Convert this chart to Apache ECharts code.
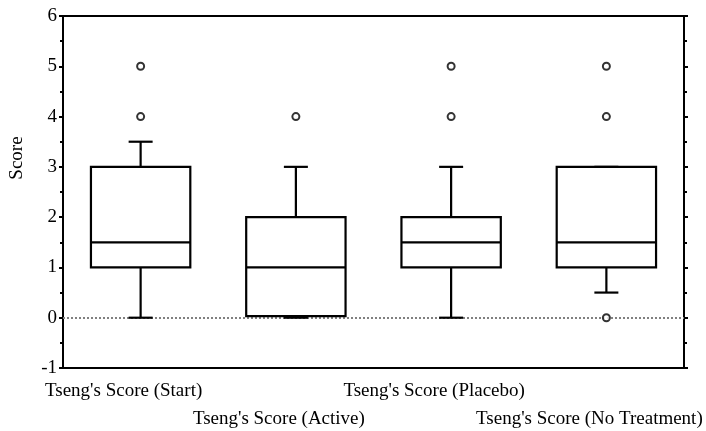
<!DOCTYPE html>
<html>
<head>
<meta charset="utf-8">
<script src="https://cdn.jsdelivr.net/npm/echarts@6/dist/echarts.min.js"></script>
<style>
  html, body { margin: 0; padding: 0; background: #fff; }
  #chart { width: 706px; height: 431px; }
</style>
</head>
<body>
<div id="chart"></div>
<script>
// Datos del diagrama de cajas
const categories = ["Tseng's Score (Start)", "Tseng's Score (Active)", "Tseng's Score (Placebo)", "Tseng's Score (No Treatment)"];
const lowWhisker = [0, 0, 0, 0.5];
const q1 = [1, 0.03, 1, 1];
const median = [1.5, 1, 1.5, 1.5];
const q3 = [3, 2, 2, 3];
const highWhisker = [3.5, 3, 3, 3];
const outlierCat = [0, 0, 1, 2, 2, 3, 3, 3];
const outlierVal = [4, 5, 4, 4, 5, 0, 4, 5];
const yTicks = [-1, 0, 1, 2, 3, 4, 5, 6];

const chart = echarts.init(document.getElementById('chart'));
const font = '"Liberation Serif", "DejaVu Serif", serif';

function renderBox(params, api) {
    const idx = api.value(0);
    const low = api.coord([idx, api.value(1)]);
    const pQ1 = api.coord([idx, api.value(2)]);
    const pMed = api.coord([idx, api.value(3)]);
    const pQ3 = api.coord([idx, api.value(4)]);
    const high = api.coord([idx, api.value(5)]);
    const bw = api.size([1, 0])[0] * 0.64;
    const cw = 24;
    const x = low[0];
    const st = { stroke: '#000', lineWidth: 2.2, fill: null };
    return {
        type: 'group',
        children: [
            { type: 'line', shape: { x1: x, y1: low[1], x2: x, y2: pQ1[1] }, style: st },
            { type: 'line', shape: { x1: x, y1: pQ3[1], x2: x, y2: high[1] }, style: st },
            { type: 'line', shape: { x1: x - cw / 2, y1: low[1], x2: x + cw / 2, y2: low[1] }, style: st },
            { type: 'line', shape: { x1: x - cw / 2, y1: high[1], x2: x + cw / 2, y2: high[1] }, style: st },
            { type: 'rect', shape: { x: x - bw / 2, y: pQ3[1], width: bw, height: pQ1[1] - pQ3[1] }, style: { stroke: '#000', lineWidth: 2.2, fill: '#fff' } },
            { type: 'line', shape: { x1: x - bw / 2, y1: pMed[1], x2: x + bw / 2, y2: pMed[1] }, style: st }
        ]
    };
}

const option = {
    backgroundColor: '#ffffff',
    animation: false,
    grid: { left: 63, right: 22, top: 16, bottom: 63, outerBoundsMode: 'none', containLabel: false },
    xAxis: [{
        type: 'category',
        data: categories,
        position: 'bottom',
        axisLine: { onZero: false, lineStyle: { color: '#000', width: 2 } },
        axisTick: { alignWithLabel: true, length: 5, lineStyle: { color: '#000', width: 2 } },
        axisLabel: {
            interval: 0,
            color: '#000',
            fontFamily: font,
            fontSize: 19,
            margin: 9,
            lineHeight: 28,
            padding: [0, 34, 0, 0],
            formatter: function (val, i) { return i % 2 === 1 ? '\n' + val : val; }
        }
    }, {
        type: 'category',
        data: categories,
        position: 'top',
        axisLine: { onZero: false, lineStyle: { color: '#000', width: 2 } },
        axisTick: { alignWithLabel: true, length: 5, lineStyle: { color: '#000', width: 2 } },
        axisLabel: { show: false }
    }],
    yAxis: [{
        type: 'value',
        min: -1,
        max: 6,
        interval: 1,
        name: 'Score',
        nameLocation: 'middle',
        nameRotate: 90,
        nameGap: 36,
        nameTextStyle: { color: '#000', fontFamily: font, fontSize: 19, padding: [0, 0, 0, 68] },
        axisLine: { show: true, lineStyle: { color: '#000', width: 2 } },
        axisTick: { show: true, length: 4, lineStyle: { color: '#000', width: 2 } },
        minorTick: { show: true, splitNumber: 2, length: 3, lineStyle: { color: '#000', width: 2 } },
        splitLine: { show: false },
        axisLabel: {
            color: '#000', fontFamily: font, fontSize: 19, margin: 6,
            formatter: function (v) { return yTicks.indexOf(v) >= 0 ? String(v) : ''; }
        }
    }, {
        type: 'value',
        min: -1,
        max: 6,
        interval: 1,
        position: 'right',
        axisLine: { show: true, lineStyle: { color: '#000', width: 2 } },
        axisTick: { show: true, length: 4, lineStyle: { color: '#000', width: 2 } },
        minorTick: { show: true, splitNumber: 2, length: 3, lineStyle: { color: '#000', width: 2 } },
        splitLine: { show: false },
        axisLabel: { show: false }
    }],
    series: [{
        type: 'custom',
        renderItem: renderBox,
        encode: { x: 0, y: [1, 2, 3, 4, 5] },
        data: categories.map((c, i) => [i, lowWhisker[i], q1[i], median[i], q3[i], highWhisker[i]]),
        markLine: {
            silent: true,
            symbol: 'none',
            label: { show: false },
            lineStyle: { color: '#808080', width: 2, type: 'dotted' },
            data: [{ yAxis: 0 }],
            z: 1
        },
        z: 2
    }, {
        type: 'scatter',
        symbol: 'emptyCircle',
        symbolSize: 7,
        itemStyle: { color: '#000', borderColor: '#000', borderWidth: 3 },
        data: outlierCat.map((c, i) => [c, outlierVal[i]]),
        z: 5
    }]
};

chart.setOption(option);
</script>
</body>
</html>
